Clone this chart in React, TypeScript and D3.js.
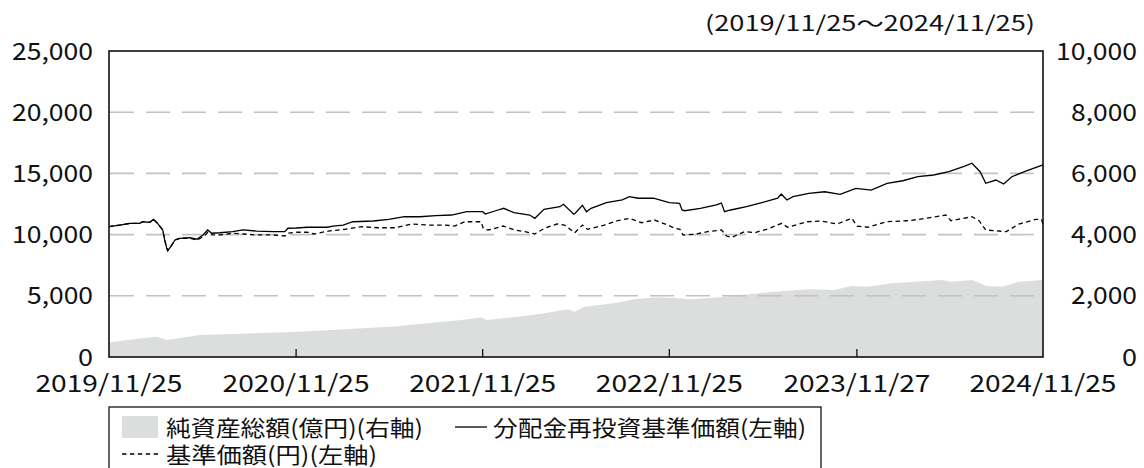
import React from "react";
import * as d3 from "d3";

// 分配金再投資基準価額 (left axis)
const reinvestSeries: [string, number][] = [
  ["2019-11-25", 10650], ["2019-12-16", 10780], ["2020-01-05", 10920], ["2020-01-24", 10920],
  ["2020-01-30", 11050], ["2020-02-13", 11000], ["2020-02-20", 11250], ["2020-02-28", 10920],
  ["2020-03-09", 10380], ["2020-03-13", 9560], ["2020-03-17", 8880], ["2020-03-19", 8690],
  ["2020-03-27", 9150], ["2020-04-02", 9560], ["2020-04-12", 9700], ["2020-05-01", 9750],
  ["2020-05-15", 9620], ["2020-05-27", 9970], ["2020-06-05", 10380], ["2020-06-13", 10110],
  ["2020-06-29", 10150], ["2020-07-24", 10240], ["2020-08-13", 10380], ["2020-09-09", 10290],
  ["2020-10-11", 10240], ["2020-11-03", 10240], ["2020-11-09", 10520], ["2020-11-25", 10540],
  ["2020-12-17", 10600], ["2021-01-25", 10600], ["2021-02-05", 10700], ["2021-02-25", 10780],
  ["2021-03-16", 11050], ["2021-04-25", 11110], ["2021-05-25", 11250], ["2021-06-25", 11460],
  ["2021-07-25", 11460], ["2021-08-25", 11545], ["2021-09-25", 11600], ["2021-10-25", 11870],
  ["2021-11-25", 11870], ["2021-11-30", 11680], ["2021-12-25", 12010], ["2022-01-05", 12150],
  ["2022-01-25", 11790], ["2022-02-25", 11600], ["2022-03-07", 11330], ["2022-03-25", 12070],
  ["2022-04-25", 12280], ["2022-05-02", 12475], ["2022-05-22", 11660], ["2022-05-25", 11740],
  ["2022-06-08", 12400], ["2022-06-16", 11870], ["2022-06-25", 12150], ["2022-07-25", 12610],
  ["2022-08-25", 12830], ["2022-09-08", 13100], ["2022-09-25", 12970], ["2022-10-25", 12970],
  ["2022-11-25", 12610], ["2022-12-15", 12560], ["2022-12-20", 12010], ["2022-12-25", 11950],
  ["2023-01-25", 12150], ["2023-02-25", 12420], ["2023-03-07", 12580], ["2023-03-13", 11870],
  ["2023-03-25", 12010], ["2023-04-25", 12280], ["2023-05-25", 12610], ["2023-06-25", 12970],
  ["2023-07-02", 13320], ["2023-07-13", 12830], ["2023-07-25", 13100], ["2023-08-25", 13370],
  ["2023-09-25", 13500], ["2023-10-25", 13290], ["2023-11-25", 13780], ["2023-12-25", 13640],
  ["2024-01-25", 14190], ["2024-02-25", 14400], ["2024-03-25", 14730], ["2024-04-25", 14870],
  ["2024-05-25", 15140], ["2024-06-25", 15600], ["2024-07-09", 15830], ["2024-07-25", 15140],
  ["2024-08-05", 14190], ["2024-08-25", 14460], ["2024-09-09", 14130], ["2024-09-25", 14730],
  ["2024-10-25", 15220], ["2024-11-25", 15690],
];

// 基準価額 (left axis)
const navSeries: [string, number][] = [
  ["2019-11-25", 10650], ["2019-12-16", 10780], ["2020-01-05", 10920], ["2020-01-24", 10920],
  ["2020-01-30", 11050], ["2020-02-13", 11000], ["2020-02-20", 11250], ["2020-02-28", 10920],
  ["2020-03-09", 10380], ["2020-03-13", 9560], ["2020-03-17", 8880], ["2020-03-19", 8690],
  ["2020-03-27", 9150], ["2020-04-02", 9560], ["2020-04-12", 9700], ["2020-05-01", 9700],
  ["2020-05-15", 9560], ["2020-05-30", 9885], ["2020-06-05", 10190], ["2020-06-13", 9970],
  ["2020-06-29", 9970], ["2020-07-24", 10110], ["2020-08-13", 10050], ["2020-09-09", 9970],
  ["2020-10-11", 9970], ["2020-11-03", 9885], ["2020-11-09", 10110], ["2020-11-25", 10190],
  ["2020-12-17", 10190], ["2020-12-31", 10050], ["2021-01-27", 10290], ["2021-02-28", 10430],
  ["2021-04-03", 10645], ["2021-05-04", 10560], ["2021-06-06", 10560], ["2021-07-09", 10865],
  ["2021-08-09", 10780], ["2021-09-12", 10780], ["2021-10-01", 10700], ["2021-10-21", 11050],
  ["2021-11-22", 11050], ["2021-11-26", 10515], ["2021-12-05", 10376], ["2021-12-19", 10515],
  ["2022-01-04", 10700], ["2022-01-27", 10376], ["2022-02-16", 10240], ["2022-03-07", 10050],
  ["2022-03-26", 10515], ["2022-04-19", 10865], ["2022-05-04", 10780], ["2022-05-24", 10155],
  ["2022-06-08", 10780], ["2022-06-18", 10430], ["2022-07-21", 10780], ["2022-08-16", 11135],
  ["2022-09-08", 11330], ["2022-10-02", 10970], ["2022-10-27", 11190], ["2022-11-22", 10780],
  ["2022-12-06", 10515], ["2022-12-16", 10430], ["2022-12-22", 9970], ["2023-01-14", 10025],
  ["2023-02-08", 10240], ["2023-03-07", 10376], ["2023-03-17", 9885], ["2023-03-27", 9780],
  ["2023-04-21", 10240], ["2023-05-11", 10155], ["2023-06-05", 10460], ["2023-07-03", 10920],
  ["2023-07-14", 10600], ["2023-08-22", 11050], ["2023-09-18", 11110], ["2023-10-19", 10865],
  ["2023-11-17", 11330], ["2023-11-27", 10700], ["2023-12-17", 10600], ["2023-12-27", 10700],
  ["2024-01-23", 11050], ["2024-03-08", 11135], ["2024-04-10", 11330], ["2024-05-19", 11600],
  ["2024-05-29", 11135], ["2024-07-09", 11460], ["2024-07-23", 11135], ["2024-08-05", 10376],
  ["2024-09-14", 10240], ["2024-10-09", 10865], ["2024-11-11", 11250], ["2024-11-22", 11250],
  ["2024-11-25", 10865],
];

// 純資産総額 (億円, right axis)
const assetSeries: [string, number][] = [
  ["2019-11-25", 467], ["2019-12-30", 556], ["2020-02-26", 663], ["2020-03-17", 556],
  ["2020-05-21", 719], ["2020-12-02", 827], ["2021-06-05", 1000], ["2021-10-14", 1209],
  ["2021-11-22", 1290], ["2021-12-03", 1209], ["2022-02-02", 1317], ["2022-03-26", 1428],
  ["2022-05-10", 1559], ["2022-05-24", 1480], ["2022-06-12", 1644], ["2022-08-16", 1775],
  ["2022-09-18", 1886], ["2022-11-02", 1951], ["2022-12-11", 1918], ["2023-01-08", 1886],
  ["2023-03-13", 1971], ["2023-06-19", 2134], ["2023-08-22", 2212], ["2023-10-14", 2190],
  ["2023-11-16", 2320], ["2023-12-17", 2297], ["2024-02-04", 2408], ["2024-05-12", 2516],
  ["2024-05-29", 2461], ["2024-07-09", 2516], ["2024-08-07", 2320], ["2024-09-07", 2297],
  ["2024-10-09", 2461], ["2024-11-25", 2516],
];

const xTickDates = ["2019-11-25", "2020-11-25", "2021-11-25", "2022-11-25", "2023-11-27", "2024-11-25"];
const xTickLabels = ["2019/11/25", "2020/11/25", "2021/11/25", "2022/11/25", "2023/11/27", "2024/11/25"];
const leftTicks = [0, 5000, 10000, 15000, 20000, 25000];
const rightTicks = [0, 2000, 4000, 6000, 8000, 10000];
const periodLabel = "(2019/11/25〜2024/11/25)";
const legendLabels = ["純資産総額(億円)(右軸)", "分配金再投資基準価額(左軸)", "基準価額(円)(左軸)"];

const W = 1144;
const H = 468;
const L = 109, R = 1043, T = 51, B = 357;
const FONT = "'Noto Sans CJK JP', 'Noto Sans', sans-serif";

const parse = d3.timeParse("%Y-%m-%d");

const numW = (s: string) => {
  let w = 0;
  for (const c of s) w += c === "," ? 6 : c === "/" ? 13.5 : 15;
  return w;
};

export default function App() {
  const x = d3.scaleTime().domain([parse("2019-11-25")!, parse("2024-11-25")!]).range([L, R]);
  const yL = d3.scaleLinear().domain([0, 25000]).range([B, T]);
  const yR = d3.scaleLinear().domain([0, 10000]).range([B, T]);

  const area = d3
    .area<[string, number]>()
    .x((d) => x(parse(d[0])!))
    .y0(B)
    .y1((d) => yR(d[1]));
  const line = d3
    .line<[string, number]>()
    .x((d) => x(parse(d[0])!))
    .y((d) => yL(d[1]));

  const fmt = d3.format(",");

  return (
    <svg
      width={W}
      height={H}
      style={{ position: "absolute", left: 0, top: 0, background: "#fff" }}
      fontFamily={FONT}
    >
      <path d={area(assetSeries) || ""} fill="#dcdddd" />
      {leftTicks.slice(1, -1).map((v) => (
        <line
          key={v}
          x1={L + 1}
          x2={R - 9}
          y1={yL(v)}
          y2={yL(v)}
          stroke="#c2c2c2"
          strokeWidth={1.6}
          strokeDasharray="24 12"
        />
      ))}
      <path d={line(navSeries) || ""} fill="none" stroke="#000" strokeWidth={1.3} strokeDasharray="4.5 3.4" />
      <path d={line(reinvestSeries) || ""} fill="none" stroke="#000" strokeWidth={1.3} />
      <rect x={L} y={T} width={R - L} height={B - T} fill="none" stroke="#000" strokeWidth={1.5} />
      {xTickDates.slice(1, -1).map((d) => (
        <line key={d} x1={x(parse(d)!)} x2={x(parse(d)!)} y1={B} y2={B - 8} stroke="#000" strokeWidth={1.2} />
      ))}
      {xTickDates.map((d, i) => (
        <text
          key={d}
          x={x(parse(d)!)}
          y={392}
          fontSize={24}
          textAnchor="middle"
          textLength={147}
          lengthAdjust="spacingAndGlyphs"
          fill="#111"
        >
          {xTickLabels[i]}
        </text>
      ))}
      {leftTicks.map((v) => (
        <text
          key={v}
          x={93}
          y={yL(v) + 8.5}
          fontSize={24}
          textAnchor="end"
          textLength={numW(fmt(v))}
          lengthAdjust="spacingAndGlyphs"
          fill="#111"
        >
          {fmt(v)}
        </text>
      ))}
      {rightTicks.map((v) => (
        <text
          key={v}
          x={1137}
          y={yR(v) + 8.5}
          fontSize={24}
          textAnchor="end"
          textLength={numW(fmt(v))}
          lengthAdjust="spacingAndGlyphs"
          fill="#111"
        >
          {fmt(v)}
        </text>
      ))}
      <text x={1035} y={31} fontSize={21} textAnchor="end" textLength={330} lengthAdjust="spacingAndGlyphs" fill="#111">
        {periodLabel}
      </text>

      {/* legend */}
      <rect x={L} y={407} width={821 - L} height={90} fill="#fff" stroke="#000" strokeWidth={1.2} />
      <rect x={122} y={416} width={36} height={22} fill="#dcdddd" />
      <text x={166} y={436} fontSize={22} textLength={257} lengthAdjust="spacingAndGlyphs" fill="#111">
        {legendLabels[0]}
      </text>
      <line x1={455} x2={487} y1={427} y2={427} stroke="#000" strokeWidth={1.3} />
      <text x={493} y={436} fontSize={22} textLength={313} lengthAdjust="spacingAndGlyphs" fill="#111">
        {legendLabels[1]}
      </text>
      <line x1={122} x2={158} y1={454} y2={454} stroke="#000" strokeWidth={1.3} strokeDasharray="4.5 3.4" />
      <text x={166} y={463} fontSize={22} textLength={211} lengthAdjust="spacingAndGlyphs" fill="#111">
        {legendLabels[2]}
      </text>
    </svg>
  );
}
